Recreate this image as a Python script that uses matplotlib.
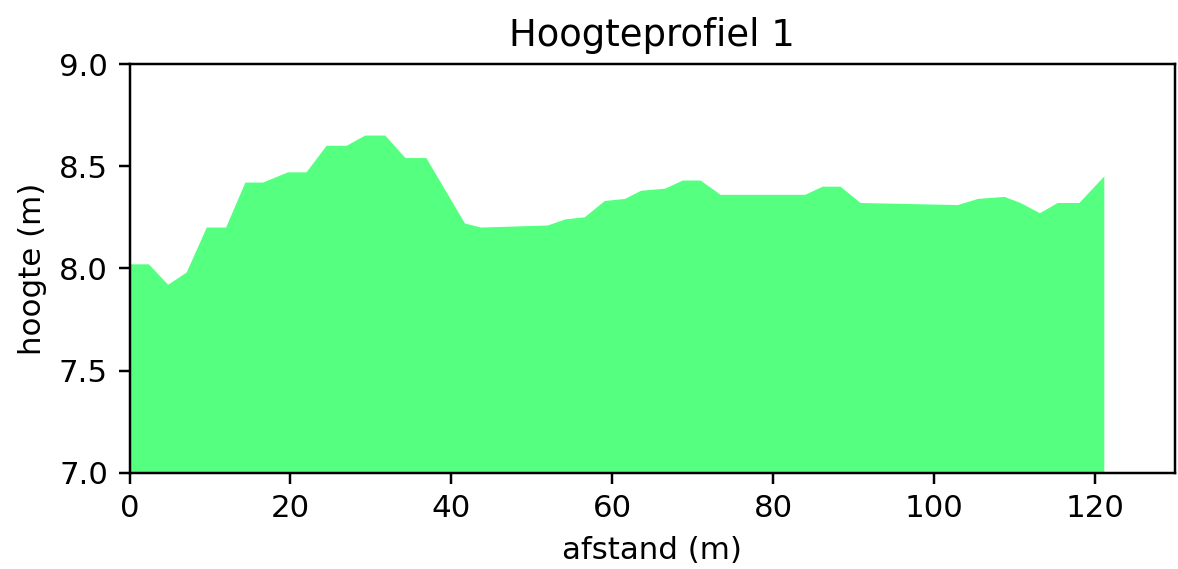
import numpy as np
import matplotlib.pyplot as plt

afstand = [0, 2.4, 4.8, 7.1, 9.6, 12.0, 14.4, 16.6, 19.7, 22.0, 24.5, 27.0, 29.3, 31.8,
           34.3, 36.9, 41.7, 43.7, 52.0, 54.2, 56.6, 59.1, 61.6, 63.6, 66.6, 68.8, 71.0,
           73.5, 84.0, 86.2, 88.4, 90.9, 103.0, 105.5, 108.8, 110.8, 113.2, 115.4, 118.1,
           121.2]
hoogte = [8.02, 8.02, 7.92, 7.98, 8.20, 8.20, 8.42, 8.42, 8.47, 8.47, 8.60, 8.60, 8.65, 8.65,
          8.54, 8.54, 8.22, 8.20, 8.21, 8.24, 8.25, 8.33, 8.34, 8.38, 8.39, 8.43, 8.43,
          8.36, 8.36, 8.40, 8.40, 8.32, 8.31, 8.34, 8.35, 8.32, 8.27, 8.32, 8.32,
          8.45]

DPI = 222
fig = plt.figure(figsize=(1178/DPI, 569/DPI), dpi=DPI)
ax = fig.add_axes([0.110, 0.169, 0.8875, 0.7185])

ax.fill_between(afstand, hoogte, 0, color='#55ff80', linewidth=0)

ax.set_xlim(0, 130)
ax.set_ylim(7.0, 9.0)
ax.set_yticks([7.0, 7.5, 8.0, 8.5, 9.0])
ax.set_xlabel('afstand (m)')
ax.set_ylabel('hoogte (m)')
ax.set_title('Hoogteprofiel 1')

fig.savefig('out.png', dpi=DPI)
